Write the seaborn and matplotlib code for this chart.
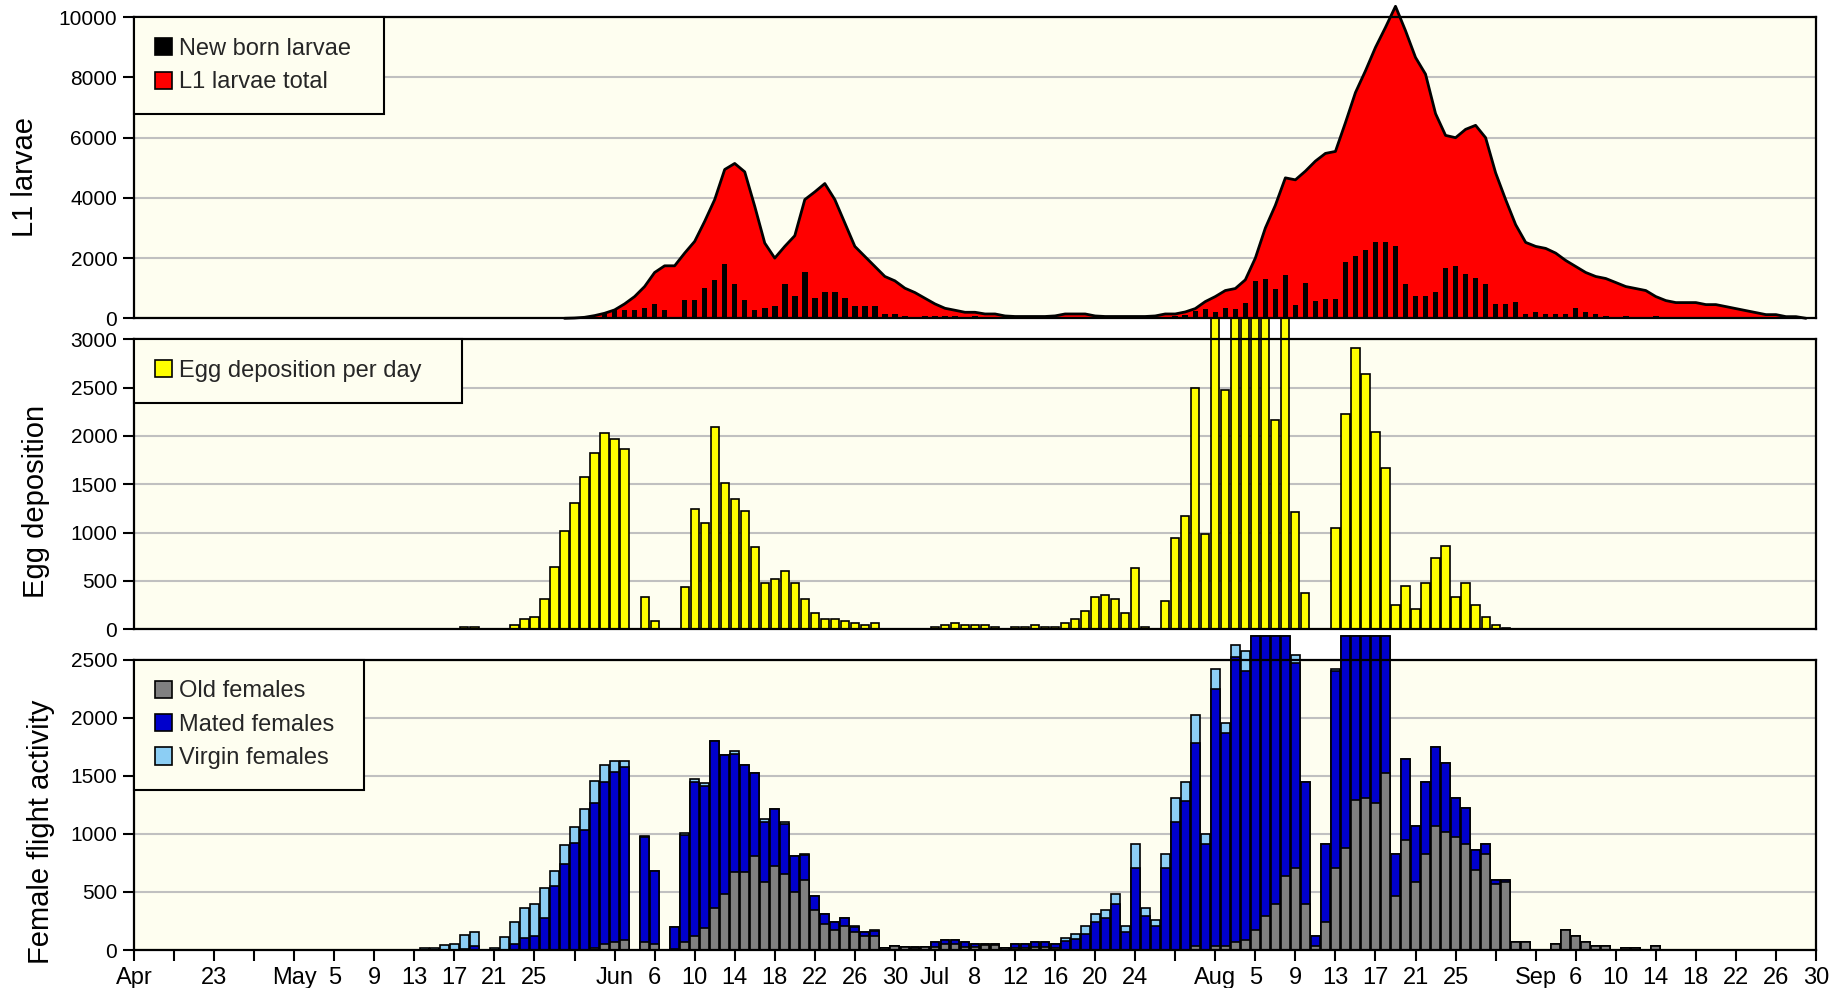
import numpy as np
import matplotlib
matplotlib.use("Agg")
import matplotlib.pyplot as plt
from matplotlib.patches import Patch
import seaborn as sns

# x axis: day 0 = 15 April, ticks every 4 days up to 30 September (day 168)
tick_labels = ["Apr", "", "23", "", "May", "5", "9", "13", "17", "21", "25", "",
               "Jun", "6", "10", "14", "18", "22", "26", "30",
               "Jul", "8", "12", "16", "20", "24", "",
               "Aug", "5", "9", "13", "17", "21", "25", "",
               "Sep", "6", "10", "14", "18", "22", "26", "30"]

# L1 larvae total (area), from day 43
l1_first = 43
l1_total = [0, 10, 33, 89, 167, 278, 478, 722, 1055, 1522,
            1744, 1744, 2166, 2555, 3222, 3944, 4944, 5144, 4866, 3722,
            2500, 2000, 2389, 2744, 3944, 4200, 4477, 3944, 3166, 2389,
            2055, 1722, 1389, 1244, 1000, 855, 666, 478, 333, 267,
            200, 200, 144, 144, 78, 60, 60, 60, 60, 80,
            144, 144, 144, 78, 60, 60, 60, 60, 60, 78,
            144, 144, 211, 322, 555, 722, 922, 989, 1278, 2000,
            3000, 3755, 4666, 4600, 4889, 5222, 5478, 5544, 6500, 7500,
            8222, 9000, 9666, 10366, 9555, 8666, 8111, 6800, 6077, 6000,
            6277, 6411, 6000, 4833, 3944, 3111, 2522, 2389, 2322, 2166,
            1922, 1722, 1522, 1389, 1322, 1189, 1055, 989, 922, 722,
            589, 522, 522, 522, 455, 455, 389, 322, 255, 189,
            122, 122, 55, 55, 0]

# new born larvae (black bars), from day 47
nb_first = 47
new_born = [140, 278, 278, 278, 344, 478, 278, 0, 611, 611,
            1011, 1278, 1811, 1144, 611, 278, 344, 411, 1144, 744,
            1544, 678, 878, 878, 678, 411, 411, 411, 144, 144,
            78, 0, 78, 78, 78, 78, 0, 78, 0, 0,
            0, 0, 0, 0, 0, 0, 0, 0, 0, 0,
            0, 0, 0, 0, 0, 0, 0, 80, 120, 240,
            295, 215, 355, 295, 495, 1240, 1295, 960, 1430, 430,
            1160, 560, 630, 630, 1878, 2078, 2278, 2544, 2544, 2411,
            1144, 744, 744, 878, 1678, 1744, 1478, 1344, 1144, 478,
            478, 544, 144, 211, 144, 144, 144, 344, 211, 144,
            78, 0, 78, 0, 0, 78]

# egg deposition per day, from day 33
egg_first = 33
eggs = [24, 24, 0, 0, 7, 41, 103, 124, 310, 641,
        1014, 1303, 1572, 1821, 2028, 1965, 1862, 0, 331, 83,
        0, 0, 434, 1241, 1096, 2090, 1510, 1345, 1221, 848,
        476, 517, 600, 476, 310, 166, 103, 103, 83, 62,
        41, 62, 3, 0, 3, 3, 0, 28, 41, 62,
        41, 41, 41, 20, 7, 20, 20, 41, 20, 20,
        62, 103, 185, 330, 350, 309, 165, 639, 20, 0,
        288, 948, 1174, 2493, 989, 3220, 2472, 3220, 3220, 3220,
        3220, 2163, 3220, 1216, 371, 0, 0, 1051, 2225, 2905,
        2637, 2040, 1669, 247, 453, 206, 474, 742, 865, 330,
        474, 247, 124, 41, 10]

# female flight activity, from day 29
fem_first = 29
old_females = [0, 0, 0, 0, 0, 0, 0, 0, 0, 0,
               0, 0, 0, 0, 0, 0, 0, 20, 52, 69,
               86, 0, 69, 52, 0, 5, 69, 124, 193, 365,
               480, 675, 675, 813, 589, 727, 655, 497, 606, 345,
               221, 172, 207, 152, 121, 121, 15, 37, 29, 20,
               29, 29, 49, 49, 29, 29, 40, 40, 17, 20,
               20, 29, 29, 20, 0, 0, 0, 0, 0, 0,
               0, 0, 0, 0, 0, 0, 0, 37, 0, 37,
               37, 72, 89, 175, 296, 400, 641, 710, 400, 37,
               244, 710, 880, 1293, 1310, 1262, 1520, 468, 951, 589,
               831, 1072, 1020, 969, 917, 693, 831, 572, 589, 72,
               72, 0, 0, 55, 175, 124, 72, 37, 37, 0,
               20, 20, 0, 37]
mated_females = [0, 0, 0, 0, 5, 37, 0, 0, 0, 55,
                 106, 124, 279, 552, 744, 920, 1035, 1242, 1396, 1466,
                 1489, 0, 900, 626, 0, 190, 920, 1320, 1220, 1437,
                 1198, 1010, 914, 710, 515, 483, 431, 316, 210, 123,
                 92, 72, 72, 45, 37, 41, 0, 0, 0, 9,
                 0, 43, 40, 40, 43, 26, 15, 15, 0, 35,
                 35, 43, 43, 35, 77, 92, 141, 241, 276, 400,
                 158, 710, 296, 210, 710, 1106, 1279, 1742, 917, 2208,
                 1828, 2448, 2311, 2525, 2404, 2300, 2059, 1759, 1051, 87,
                 673, 1690, 1820, 1407, 1390, 1438, 1180, 363, 690, 483,
                 620, 673, 587, 344, 310, 172, 86, 34, 17, 0,
                 0, 0, 0, 0, 0, 0, 0, 0, 0, 0,
                 0, 0, 0, 0]
virgin_females = [15, 15, 40, 55, 120, 121, 0, 15, 109, 189,
                  259, 276, 258, 126, 156, 135, 175, 192, 144, 89,
                  49, 0, 17, 0, 0, 0, 17, 27, 21, 0,
                  0, 28, 0, 0, 20, 0, 20, 0, 15, 0,
                  0, 0, 0, 10, 0, 10, 0, 0, 0, 0,
                  0, 0, 0, 0, 0, 0, 0, 0, 0, 0,
                  0, 0, 0, 0, 29, 49, 69, 72, 72, 86,
                  52, 207, 69, 52, 121, 207, 172, 241, 86, 172,
                  86, 110, 172, 0, 0, 0, 0, 69, 0, 0,
                  0, 17, 0, 0, 0, 0, 0, 0, 0, 0,
                  0, 0, 0, 0, 0, 0, 0, 0, 0, 0,
                  0, 0, 0, 0, 0, 0, 0, 0, 0, 0,
                  0, 0, 0, 0]

ivory = "#FEFEF0"
c_grey, c_blue, c_lblue = "#808080", "#0000CC", "#8CCEF4"

sns.set_theme(style="white")
plt.rcParams["font.family"] = ["Liberation Sans", "DejaVu Sans"]

W, H = 1846, 988
fig = plt.figure(figsize=(W / 100, H / 100), dpi=100)


def add_ax(x0, y0, x1, y1):
    return fig.add_axes([x0 / W, 1 - y1 / H, (x1 - x0) / W, (y1 - y0) / H])


ax_f = add_ax(134, 659.7, 1816, 950)
ax_e = add_ax(134, 339.3, 1816, 629.3)
ax_l = add_ax(134, 17.3, 1816, 318.3)


def bars(ax, days, vals, color, width, lw=1.2):
    days = np.asarray(days)
    vals = np.asarray(vals)
    keep = vals > 0
    sns.barplot(x=days[keep], y=vals[keep], native_scale=True, color=color,
                saturation=1, width=width, edgecolor="black", linewidth=lw,
                errorbar=None, ax=ax, clip_on=False, zorder=2)


def style(ax, ymax, step, label, lx, ly):
    ax.set_facecolor(ivory)
    ax.set_xlim(0, 168)
    ax.set_ylim(0, ymax)
    ax.set_yticks(np.arange(0, ymax + 1, step))
    ax.yaxis.grid(True, color="#C0C0C0", lw=1.5)
    ax.xaxis.grid(False)
    ax.set_axisbelow(True)
    for s in ax.spines.values():
        s.set_visible(True)
        s.set_color("black")
        s.set_linewidth(1.6)
    ax.tick_params(axis="y", direction="out", length=8, width=1.5,
                   labelsize=15, pad=4, left=True, colors="black")
    ax.set_xlabel("")
    ax.set_ylabel(label, fontsize=21, color="black")
    ax.yaxis.set_label_coords(lx, ly)


def legend(ax, items, wfrac):
    handles = [Patch(facecolor=c, edgecolor="black", lw=1.2) for c, _ in items]
    leg = ax.legend(handles, [t for _, t in items], loc="upper left",
                    bbox_to_anchor=(0, 0, wfrac, 1), mode="expand",
                    borderaxespad=0, fontsize=17, frameon=True, fancybox=False,
                    framealpha=1, facecolor=ivory, edgecolor="black",
                    borderpad=0.88, labelspacing=0.48, handlelength=0.75,
                    handleheight=0.75, handletextpad=0.28)
    leg.get_frame().set_linewidth(1.5)
    leg.set_zorder(5)


# bottom: female flight activity (stacked)
fem_days = fem_first + np.arange(len(old_females))
old = np.array(old_females)
mated = np.array(mated_females)
virgin = np.array(virgin_females)
bars(ax_f, fem_days, old + mated + virgin, c_lblue, 0.88)
bars(ax_f, fem_days, old + mated, c_blue, 0.88)
bars(ax_f, fem_days, old, c_grey, 0.88)
style(ax_f, 2500, 500, "Female flight activity", -0.047, 0.407)
ax_f.set_xticks(np.arange(0, 169, 4))
ax_f.set_xticklabels(tick_labels, fontsize=17)
ax_f.tick_params(axis="x", direction="out", length=8, width=1.5, pad=4,
                 bottom=True, colors="black")
legend(ax_f, [(c_grey, "Old females"), (c_blue, "Mated females"),
              (c_lblue, "Virgin females")], 230 / 1682)

# middle: egg deposition
egg_days = egg_first + np.arange(len(eggs))
bars(ax_e, egg_days, eggs, "#FFFF00", 0.82)
style(ax_e, 3000, 500, "Egg deposition", -0.05, 0.442)
ax_e.set_xticks([])
legend(ax_e, [("#FFFF00", "Egg deposition per day")], 328 / 1682)

# top: L1 larvae
l1_days = l1_first + np.arange(len(l1_total))
ax_l.fill_between(l1_days, l1_total, color="#FF0000", lw=0, zorder=1, clip_on=False)
nb_days = nb_first + np.arange(len(new_born))
bars(ax_l, nb_days, new_born, "black", 0.55, lw=0)
sns.lineplot(x=l1_days, y=l1_total, color="black", lw=2, ax=ax_l,
             errorbar=None, zorder=3, clip_on=False)
style(ax_l, 10000, 2000, "L1 larvae", -0.0565, 0.468)
ax_l.set_xticks([])
legend(ax_l, [("black", "New born larvae"), ("#FF0000", "L1 larvae total")], 250 / 1682)

fig.savefig("out.png", dpi=100)
